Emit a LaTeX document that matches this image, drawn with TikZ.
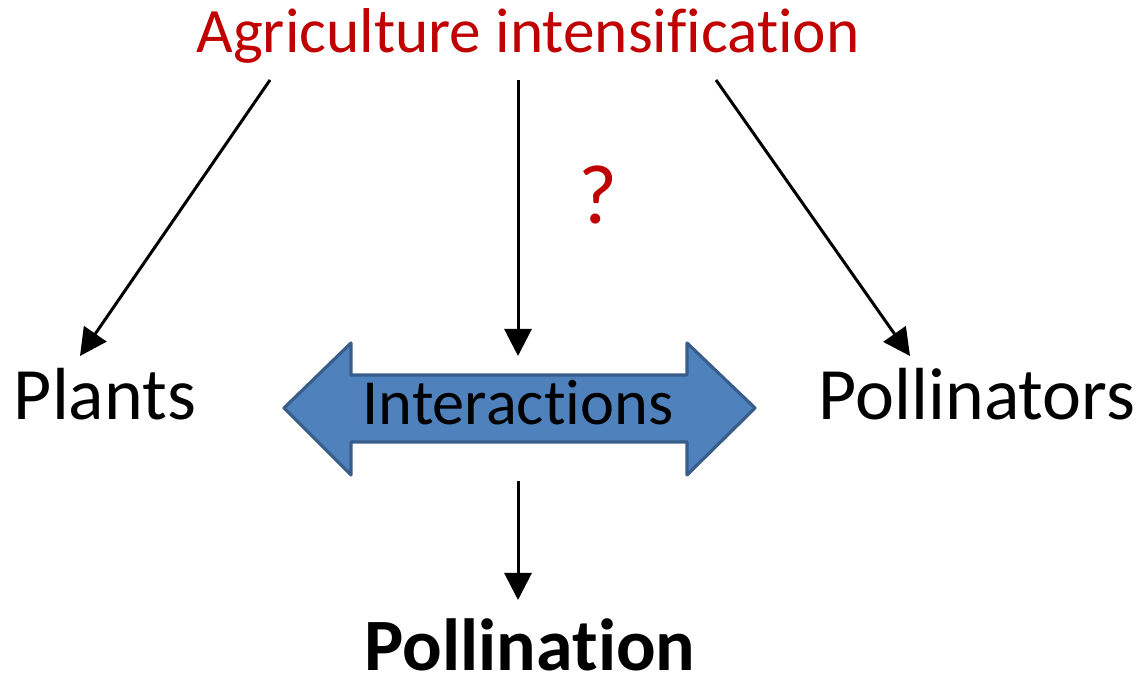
\documentclass[tikz,border=0pt]{standalone}
\usepackage{fontspec}
\setmainfont{Carlito}[Ligatures=NoCommon]
\usetikzlibrary{arrows.meta}
\definecolor{redtxt}{HTML}{C00000}
\definecolor{arrfill}{HTML}{4F81BD}
\definecolor{arrline}{HTML}{385D8A}
\tikzset{
  lbl/.style={inner sep=0pt, anchor=base, font=\fontsize{21}{25}\selectfont},
  conn/.style={line width=0.85pt, -{Triangle[length=0.27cm,width=0.27cm]}},
  bigarrow/.style={fill=arrfill, draw=arrline, line width=0.9pt, line join=round}
}
\begin{document}
\begin{tikzpicture}[x=0.01cm,y=-0.01cm]
\useasboundingbox (0,0) rectangle (1140,677);
% double arrow shape
\draw[bigarrow] (284,408) -- (351,343) -- (351,375) -- (687,375) -- (687,343) -- (755,408)
  -- (687,475) -- (687,442) -- (351,442) -- (351,475) -- cycle;
\node[lbl, text=redtxt, font=\fontsize{18}{22}\selectfont] (agri) at (528,53) {Agriculture intensification};
\node[lbl] (plants) at (105,420) {Plants};
\node[lbl] (poll) at (977,420) {Pollinators};
\node[lbl, font=\fontsize{18.3}{22}\selectfont] (inter) at (518,425) {Interactions};
\node[lbl, font=\fontsize{21}{25}\selectfont\bfseries] (pollination) at (530,671) {Pollination};
\node[lbl, text=redtxt, font=\fontsize{24}{28}\selectfont] (q) at (598,224) {?};
\coordinate (a1s) at (270,80);
\coordinate (a1e) at (80,356);
\coordinate (a2s) at (518,80);
\coordinate (a2e) at (518,356);
\coordinate (a3s) at (716,80);
\coordinate (a3e) at (910,356);
\coordinate (a4s) at (518,481);
\coordinate (a4e) at (518,600);
\draw[conn] (a1s) -- (a1e);
\draw[conn] (a2s) -- (a2e);
\draw[conn] (a3s) -- (a3e);
\draw[conn] (a4s) -- (a4e);
\end{tikzpicture}
\end{document}
